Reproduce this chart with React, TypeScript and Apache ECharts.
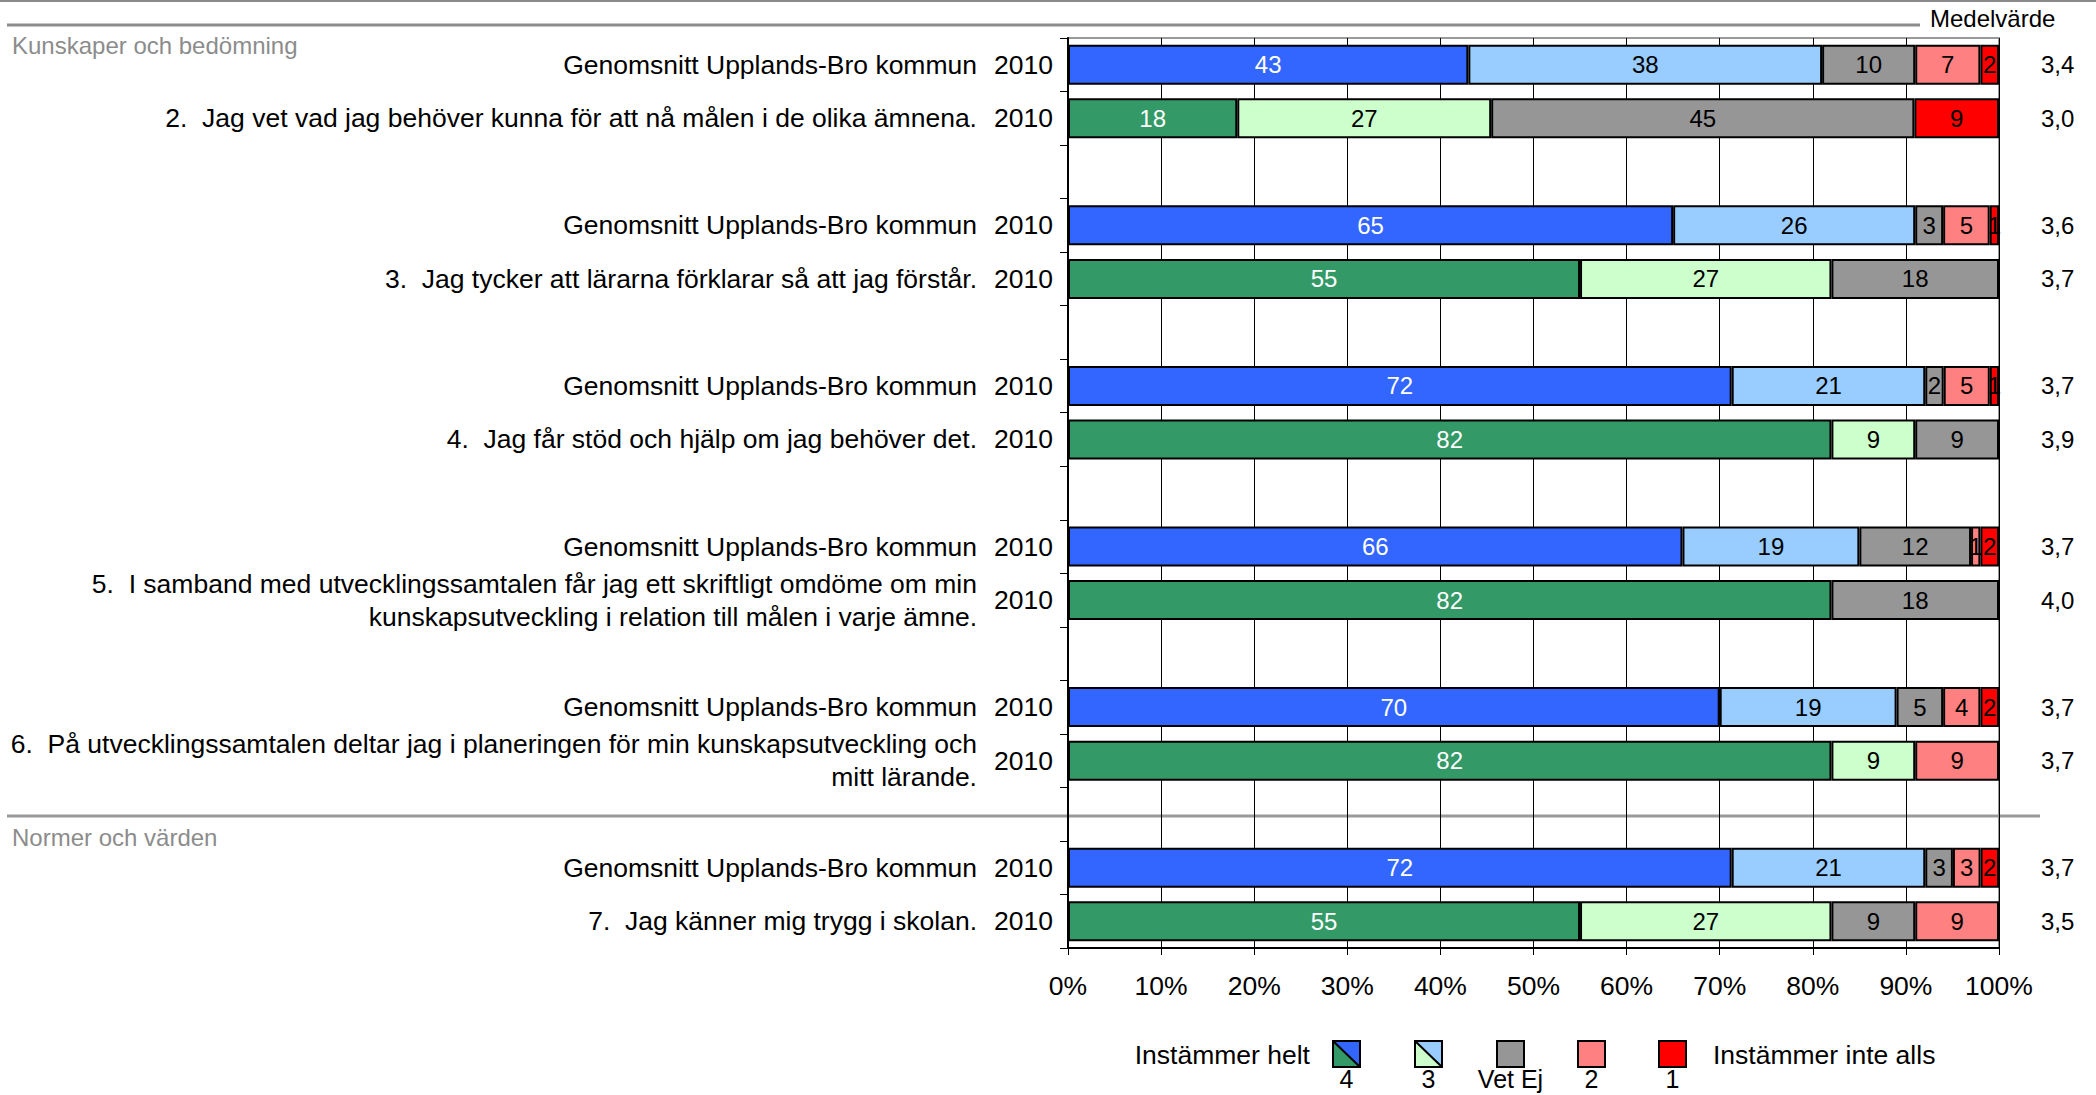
import React, { useEffect, useRef } from "react";
import * as echarts from "echarts";

const FONT = "'Liberation Sans', Arial, sans-serif";

// Row labels (top to bottom)
const AVG = "Genomsnitt Upplands-Bro kommun";
const rowLabels = [
  AVG,
  "2.  Jag vet vad jag behöver kunna för att nå målen i de olika ämnena.",
  "",
  AVG,
  "3.  Jag tycker att lärarna förklarar så att jag förstår.",
  "",
  AVG,
  "4.  Jag får stöd och hjälp om jag behöver det.",
  "",
  AVG,
  "5.  I samband med utvecklingssamtalen får jag ett skriftligt omdöme om min\nkunskapsutveckling i relation till målen i varje ämne.",
  "",
  AVG,
  "6.  På utvecklingssamtalen deltar jag i planeringen för min kunskapsutveckling och\nmitt lärande.",
  "",
  AVG,
  "7.  Jag känner mig trygg i skolan.",
];
const yearLabels = ["2010", "2010", "", "2010", "2010", "", "2010", "2010", "", "2010", "2010", "", "2010", "2010", "", "2010", "2010"];
const isAverage = [true, false, false, true, false, false, true, false, false, true, false, false, true, false, false, true, false];

// Series values (percent, as printed)
const v4 = [43, 18, 0, 65, 55, 0, 72, 82, 0, 66, 82, 0, 70, 82, 0, 72, 55];
const v3 = [38, 27, 0, 26, 27, 0, 21, 9, 0, 19, 0, 0, 19, 9, 0, 21, 27];
const vEj = [10, 45, 0, 3, 18, 0, 2, 9, 0, 12, 18, 0, 5, 0, 0, 3, 9];
const v2 = [7, 0, 0, 5, 0, 0, 5, 0, 0, 1, 0, 0, 4, 9, 0, 3, 9];
const v1 = [2, 9, 0, 1, 0, 0, 1, 0, 0, 2, 0, 0, 2, 0, 0, 2, 0];
const means = ["3,4", "3,0", "", "3,6", "3,7", "", "3,7", "3,9", "", "3,7", "4,0", "", "3,7", "3,7", "", "3,7", "3,5"];

const C_BLUE = "#3366FF";
const C_LBLUE = "#99CCFF";
const C_GREEN = "#339966";
const C_LGREEN = "#CCFFCC";
const C_GRAY = "#969696";
const C_PINK = "#FF8080";
const C_RED = "#FF0000";

const legendLabels = ["4", "3", "Vet Ej", "2", "1"];

export default function App() {
  const ref = useRef<HTMLDivElement>(null);

  useEffect(() => {
    document.body.style.margin = "0";
    const chart = echarts.init(ref.current!, null, { renderer: "svg" });
    const ids = rowLabels.map((_, i) => String(i));
    const sums = rowLabels.map((_, i) => v4[i] + v3[i] + vEj[i] + v2[i] + v1[i]);

    const mk = (
      name: string,
      vals: number[],
      colAvg: string,
      colQ: string,
      labelColorAvg: string,
      labelColorQ: string
    ) => ({
      name,
      type: "bar",
      stack: "all",
      barWidth: 40,
      yAxisIndex: 0,
      data: vals.map((v, i) =>
        v > 0
          ? {
              value: (v / sums[i]) * 100,
              raw: v,
              itemStyle: { color: isAverage[i] ? colAvg : colQ },
              label: { color: isAverage[i] ? labelColorAvg : labelColorQ },
            }
          : "-"
      ),
      itemStyle: { borderColor: "#000", borderWidth: 2 },
      label: {
        show: true,
        position: "inside",
        fontFamily: FONT,
        fontSize: 24,
        formatter: (p: any) => String(p.data.raw),
      },
    });

    const graphics: any[] = [];
    graphics.push({ type: "line", shape: { x1: 0, y1: 1, x2: 2096, y2: 1 }, style: { stroke: "#8a8a8a", lineWidth: 2 } });
    graphics.push({ type: "line", shape: { x1: 7, y1: 25, x2: 1920, y2: 25 }, style: { stroke: "#8c8c8c", lineWidth: 3 } });
    graphics.push({ type: "text", x: 1930, y: 18, style: { text: "Medelvärde", fontFamily: FONT, fontSize: 24, fill: "#000", verticalAlign: "middle" } });
    graphics.push({ type: "text", x: 12, y: 45, style: { text: "Kunskaper och bedömning", fontFamily: FONT, fontSize: 24, fill: "#8c8c8c", verticalAlign: "middle" } });
    graphics.push({ type: "line", shape: { x1: 7, y1: 816, x2: 2040, y2: 816 }, style: { stroke: "#999", lineWidth: 3 } });
    graphics.push({ type: "text", x: 12, y: 837, style: { text: "Normer och värden", fontFamily: FONT, fontSize: 24, fill: "#8c8c8c", verticalAlign: "middle" } });

    // Legend
    const lx = [1333, 1415, 1497, 1578, 1659];
    const ly = 1041;
    const w = 27;
    const h = 26;
    graphics.push({ type: "text", x: 1310, y: 1055, style: { text: "Instämmer helt", fontFamily: FONT, fontSize: 26.5, fill: "#000", align: "right", verticalAlign: "middle" } });
    graphics.push({ type: "text", x: 1713, y: 1055, style: { text: "Instämmer inte alls", fontFamily: FONT, fontSize: 26.5, fill: "#000", align: "left", verticalAlign: "middle" } });
    const split: [string, string][] = [
      [C_GREEN, C_BLUE],
      [C_LGREEN, C_LBLUE],
    ];
    lx.forEach((x, i) => {
      if (i < 2) {
        graphics.push({ type: "polygon", shape: { points: [[x, ly], [x, ly + h], [x + w, ly + h]] }, style: { fill: split[i][0] } });
        graphics.push({ type: "polygon", shape: { points: [[x, ly], [x + w, ly], [x + w, ly + h]] }, style: { fill: split[i][1] } });
        graphics.push({ type: "line", shape: { x1: x, y1: ly, x2: x + w, y2: ly + h }, style: { stroke: "#000", lineWidth: 2 } });
        graphics.push({ type: "rect", shape: { x, y: ly, width: w, height: h }, style: { fill: "none", stroke: "#000", lineWidth: 2 } });
      } else {
        const col = [C_GRAY, C_PINK, C_RED][i - 2];
        graphics.push({ type: "rect", shape: { x, y: ly, width: w, height: h }, style: { fill: col, stroke: "#000", lineWidth: 2 } });
      }
      graphics.push({ type: "text", x: x + w / 2, y: 1079, style: { text: legendLabels[i], fontFamily: FONT, fontSize: 25, fill: "#000", align: "center", verticalAlign: "middle" } });
    });

    const option: any = {
      animation: false,
      backgroundColor: "#fff",
      textStyle: { fontFamily: FONT },
      grid: {
        left: 1068,
        right: 97,
        top: 38,
        bottom: 147,
        show: true,
        borderColor: "#999",
        borderWidth: 2,
        containLabel: false,
      },
      xAxis: {
        type: "value",
        min: 0,
        max: 100,
        interval: 10,
        axisLine: { show: true, lineStyle: { color: "#000", width: 2 } },
        axisTick: { show: true, inside: false, length: 7, lineStyle: { color: "#000", width: 1 } },
        splitLine: { show: true, lineStyle: { color: "#000", width: 1 } },
        axisLabel: { formatter: "{value}%", fontFamily: FONT, fontSize: 26.5, color: "#000", margin: 24 },
      },
      yAxis: [
        {
          type: "category",
          inverse: true,
          data: ids,
          position: "left",
          axisLine: { show: true, lineStyle: { color: "#000", width: 2 } },
          axisTick: { show: true, length: 8, lineStyle: { color: "#000", width: 1 } },
          splitLine: { show: false },
          axisLabel: {
            margin: 15,
            fontFamily: FONT,
            fontSize: 26.5,
            color: "#000",
            padding: [0, 0, 3, 0],
            formatter: (v: string) => yearLabels[Number(v)],
          },
        },
        {
          type: "category",
          inverse: true,
          data: ids,
          position: "left",
          axisLine: { show: false },
          axisTick: { show: false },
          splitLine: { show: false },
          axisLabel: {
            margin: 91,
            fontFamily: FONT,
            fontSize: 26.5,
            lineHeight: 33,
            color: "#000",
            align: "right",
            padding: [0, 0, 4, 0],
            formatter: (v: string) => rowLabels[Number(v)],
          },
        },
        {
          type: "category",
          inverse: true,
          data: ids,
          position: "right",
          axisLine: { show: false },
          axisTick: { show: false },
          splitLine: { show: false },
          axisLabel: {
            margin: 42,
            fontFamily: FONT,
            fontSize: 24,
            color: "#000",
            align: "left",
            padding: [0, 0, 5, 0],
            formatter: (v: string) => means[Number(v)],
          },
        },
      ],
      series: [
        mk("4", v4, C_BLUE, C_GREEN, "#fff", "#fff"),
        mk("3", v3, C_LBLUE, C_LGREEN, "#000", "#000"),
        mk("Vet Ej", vEj, C_GRAY, C_GRAY, "#000", "#000"),
        mk("2", v2, C_PINK, C_PINK, "#000", "#000"),
        mk("1", v1, C_RED, C_RED, "#000", "#000"),
      ],
      graphic: { elements: graphics },
    };
    chart.setOption(option);
    return () => chart.dispose();
  }, []);

  return (
    <div
      ref={ref}
      style={{ position: "absolute", left: 0, top: 0, width: 2096, height: 1095, background: "#fff" }}
    />
  );
}
